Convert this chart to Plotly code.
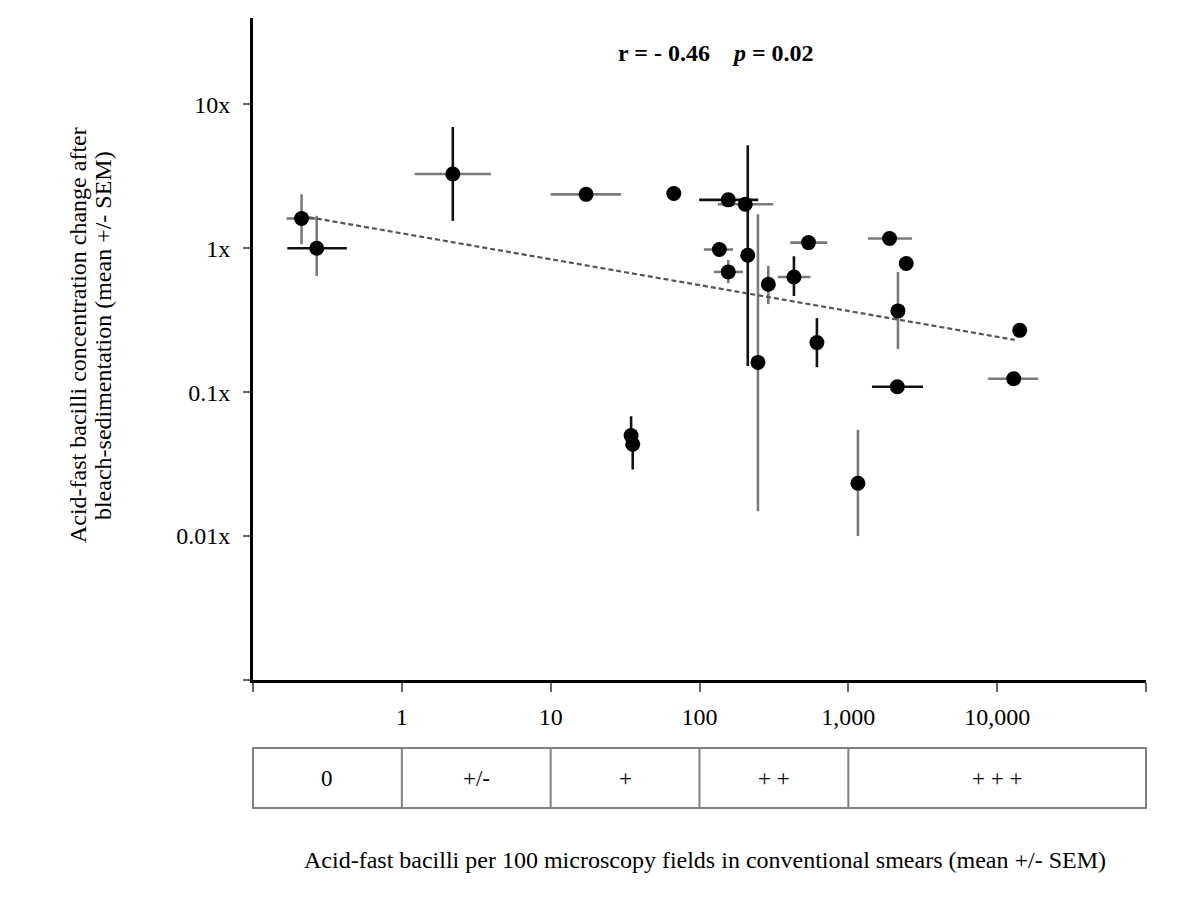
import numpy as np
import plotly.graph_objects as go

# AFB per 100 fields (conventional smear) vs fold change after bleach-sedimentation
smear_afb = [0.212, 0.268, 2.2, 17.3, 67.2, 156, 203, 211, 247, 136, 156, 290,
             431, 540, 615, 1892, 2449, 2155, 14170, 12910, 2133, 1160, 34.7, 35.6]
conc_change = [1.61, 1.0, 3.28, 2.37, 2.40, 2.17, 2.02, 0.894, 0.161, 0.98, 0.685, 0.562,
               0.632, 1.095, 0.221, 1.17, 0.783, 0.367, 0.269, 0.124, 0.109, 0.0233, 0.0499, 0.0435]

# horizontal SEM extents (None = no bar), and bar colour: 'k' black, 'g' grey
smear_lo = [0.168, 0.170, 1.22, 10.0, None, 99.4, 133, None, None, 107, 125, None,
            336, 407, None, 1355, None, None, None, 8690, 1442, None, None, None]
smear_hi = [0.265, 0.427, 3.97, 29.7, None, 248, 313, None, None, 168, 196, None,
            557, 721, None, 2678, None, None, None, 18840, 3175, None, None, None]
smear_bar = ['g', 'k', 'g', 'g', '', 'k', 'g', '', '', 'g', 'g', '',
             'g', 'g', '', 'g', '', '', '', 'g', 'k', '', '', '']

# vertical SEM extents
conc_lo = [1.066, 0.642, 1.55, None, None, None, None, 0.152, 0.0149, None, 0.572, 0.409,
           0.466, None, 0.149, None, None, 0.199, None, None, None, 0.010, 0.042, 0.029]
conc_hi = [2.37, 1.68, 6.96, None, None, None, None, 5.19, 1.72, None, 0.829, 0.754,
           0.880, None, 0.327, None, None, 0.684, None, None, None, 0.0547, 0.068, 0.055]
conc_bar = ['g', 'g', 'k', '', '', '', '', 'k', 'g', '', 'g', 'g',
            'k', '', 'k', '', '', 'g', '', '', '', 'g', 'k', 'k']

# regression line end points
trend_x = [0.21, 13100]
trend_y = [1.68, 0.231]

# smear grading table under the axis
grade_edges = [0.1, 1, 10, 100, 1000, 100000]
grade_labels = ['0', '+/-', '+', '+ +', '+ + +']

x_ticks = [0.1, 1, 10, 100, 1000, 10000, 100000]
x_ticktext = ['', '1', '10', '100', '1,000', '10,000', '']
y_ticks = [0.001, 0.01, 0.1, 1, 10]
y_ticktext = ['', '0.01x', '0.1x', '1x', '10x']

XMIN, XMAX = -1, 5
YMIN, YMAX = -3, 1.6
FONT = 'Liberation Serif'
BAR_COLORS = {'k': '#111111', 'g': '#7a7a7a'}

fig = go.Figure()

# error bars, one trace per direction and colour
for code, col in BAR_COLORS.items():
    idx = [i for i, c in enumerate(smear_bar) if c == code]
    fig.add_trace(go.Scatter(
        x=[smear_afb[i] for i in idx], y=[conc_change[i] for i in idx],
        mode='markers', marker=dict(color='rgba(0,0,0,0)', size=2),
        error_x=dict(type='data', symmetric=False,
                     array=[smear_hi[i] - smear_afb[i] for i in idx],
                     arrayminus=[smear_afb[i] - smear_lo[i] for i in idx],
                     color=col, thickness=2.6, width=0),
        hoverinfo='skip', showlegend=False))
    idx = [i for i, c in enumerate(conc_bar) if c == code]
    fig.add_trace(go.Scatter(
        x=[smear_afb[i] for i in idx], y=[conc_change[i] for i in idx],
        mode='markers', marker=dict(color='rgba(0,0,0,0)', size=2),
        error_y=dict(type='data', symmetric=False,
                     array=[conc_hi[i] - conc_change[i] for i in idx],
                     arrayminus=[conc_change[i] - conc_lo[i] for i in idx],
                     color=col, thickness=2.6, width=0),
        hoverinfo='skip', showlegend=False))

# trend line
fig.add_trace(go.Scatter(x=trend_x, y=trend_y, mode='lines',
                         line=dict(color='#555555', width=2.2, dash='5px,3px'),
                         hoverinfo='skip', showlegend=False))

# points
fig.add_trace(go.Scatter(x=smear_afb, y=conc_change, mode='markers',
                         marker=dict(color='black', size=15),
                         showlegend=False))

fig.update_xaxes(type='log', range=[XMIN, XMAX],
                 tickvals=x_ticks, ticktext=x_ticktext,
                 showline=True, linecolor='black', linewidth=3,
                 ticks='outside', ticklen=9, tickwidth=2, tickcolor='#666666',
                 ticklabelstandoff=4,
                 showgrid=False, zeroline=False,
                 tickfont=dict(family=FONT, size=24, color='black'))
fig.update_yaxes(type='log', range=[YMIN, YMAX],
                 tickvals=y_ticks, ticktext=y_ticktext,
                 showline=True, linecolor='black', linewidth=3,
                 ticks='outside', ticklen=7, tickwidth=2, tickcolor='#666666',
                 ticklabelstandoff=8,
                 showgrid=False, zeroline=False,
                 tickfont=dict(family=FONT, size=24, color='black'))

# grading table
def to_paper(v):
    return (np.log10(v) - XMIN) / (XMAX - XMIN)

tab_top, tab_bot = -0.1027, -0.1934
fig.add_shape(type='rect', xref='paper', yref='paper', x0=0, x1=1,
              y0=tab_bot, y1=tab_top, line=dict(color='#808080', width=2))
for e in grade_edges[1:-1]:
    fig.add_shape(type='line', xref='paper', yref='paper', x0=to_paper(e), x1=to_paper(e),
                  y0=tab_bot, y1=tab_top, line=dict(color='#808080', width=2))
for lab, a, b in zip(grade_labels, grade_edges[:-1], grade_edges[1:]):
    fig.add_annotation(x=(to_paper(a) + to_paper(b)) / 2, y=(tab_top + tab_bot) / 2,
                       xref='paper', yref='paper', text=lab, showarrow=False,
                       xanchor='center', yanchor='middle',
                       font=dict(family=FONT, size=23, color='black'))

# titles and stats
fig.add_annotation(x=0.506, y=-0.272, xref='paper', yref='paper', showarrow=False,
                   xanchor='center', yanchor='middle',
                   text='Acid-fast bacilli per 100 microscopy fields in conventional smears (mean +/- SEM)',
                   font=dict(family=FONT, size=24, color='black'))
for txt, xp in [('Acid-fast bacilli concentration change after', -0.196),
                ('bleach-sedimentation (mean +/- SEM)', -0.168)]:
    fig.add_annotation(x=xp, y=0.521, xref='paper', yref='paper', showarrow=False,
                       xanchor='center', yanchor='middle', textangle=-90, text=txt,
                       font=dict(family=FONT, size=24, color='black'))
fig.add_annotation(x=0.5185, y=0.947, xref='paper', yref='paper', showarrow=False,
                   xanchor='center', yanchor='middle',
                   text='<b>r = - 0.46&nbsp;&nbsp;&nbsp;&nbsp;<i>p</i> = 0.02</b>',
                   font=dict(family=FONT, size=24, color='black'))

# page body has an 8px margin, so offsets are shifted by that
fig.update_layout(width=1200, height=900,
                  margin=dict(l=245, r=62, t=10, b=228),
                  plot_bgcolor='white', paper_bgcolor='white')

fig.write_html("out.html")
